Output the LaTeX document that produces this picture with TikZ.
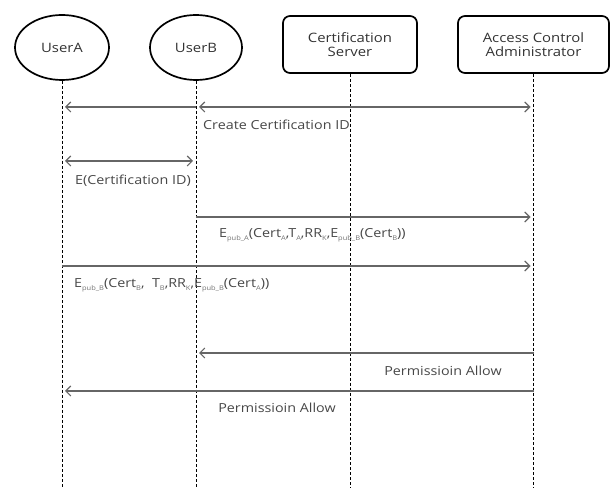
\documentclass[tikz,border=0pt]{standalone}
\usepackage{fontspec}
\setmainfont{Open Sans}[FakeStretch=1.15]
\usetikzlibrary{positioning,shapes.geometric,arrows.meta}
\newcommand{\lsub}[1]{\raisebox{-0.45ex}{\fontsize{6.5}{7}\selectfont\color{black!55}#1}}

\begin{document}
\begin{tikzpicture}[>={Straight Barb[length=5bp,width=10bp]},line join=bevel,
  actor/.style={draw,ellipse,line width=1.7bp,minimum width=94bp,minimum height=65bp,inner sep=0pt,text=black!80,font=\fontsize{13}{15}\selectfont},
  server/.style={draw,rounded corners=7bp,line width=1.7bp,minimum height=57bp,align=center,inner sep=0pt,text=black!80,font=\fontsize{13}{14.5}\selectfont},
  lifeline/.style={black,densely dashed,line width=0.8bp},
  msg/.style={draw=black!60,line width=1.1bp,shorten >=3bp},
  lbl/.style={text=black!72,inner sep=0pt,font=\fontsize{12.5}{14}\selectfont},
]
\useasboundingbox (0bp,0bp) rectangle (613bp,488bp);
%%
\node (userA) at (62bp,440.5bp) [actor] {UserA};
\node (userB) at (196bp,440.5bp) [actor,minimum width=92bp] {UserB};
\node (certsrv) at (350bp,443.5bp) [server,minimum width=134bp] {Certification\\Server};
\node (aca) at (533.5bp,443.5bp) [server,minimum width=151bp] {Access Control\\Administrator};
\coordinate (bottom) at (0bp,0bp);
%% lifelines
\draw [lifeline] (userA.south) -- (userA.south |- bottom);
\draw [lifeline] (userB.south) -- (userB.south |- bottom);
\draw [lifeline] (certsrv.south) -- (certsrv.south |- bottom);
\draw [lifeline] (aca.south) -- (aca.south |- bottom);
%% message rows
\coordinate (m1) at (0bp,381bp);
\coordinate (m2) at (0bp,327bp);
\coordinate (m3) at (0bp,271bp);
\coordinate (m4) at (0bp,222bp);
\coordinate (m5) at (0bp,135bp);
\coordinate (m6) at (0bp,97bp);
%% messages
\draw [msg,->] (userB.south |- m1) -- (userA.south |- m1);
\draw [msg,<->,shorten <=3bp] (userB.south |- m1) -- (aca.south |- m1);
\draw [msg,<->,shorten <=3bp] (userA.south |- m2) -- (userB.south |- m2);
\draw [msg,->] (userB.south |- m3) -- (aca.south |- m3);
\draw [msg,->] (userA.south |- m4) -- (aca.south |- m4);
\draw [msg,->] (aca.south |- m5) -- (userB.south |- m5);
\draw [msg,->] (aca.south |- m6) -- (userA.south |- m6);
%% labels
\node (createid) at (203bp,363bp) [lbl,anchor=west] {Create Certification ID};
\node (encid) at (75bp,307bp) [lbl,anchor=west] {E(Certification ID)};
\node (certA) at (219bp,253bp) [lbl,anchor=west] {E\lsub{pub\_A}(Cert\lsub{A},T\lsub{A},RR\lsub{K},E\lsub{pub\_B}(Cert\lsub{B}))};
\node (certB) at (74bp,203bp) [lbl,anchor=west] {E\lsub{pub\_B}(Cert\lsub{B}, \ T\lsub{B},RR\lsub{K},E\lsub{pub\_B}(Cert\lsub{A}))};
\node (allowB) at (443bp,117bp) [lbl] {Permissioin Allow};
\node (allowA) at (277bp,80bp) [lbl] {Permissioin Allow};
%
\end{tikzpicture}
\end{document}
